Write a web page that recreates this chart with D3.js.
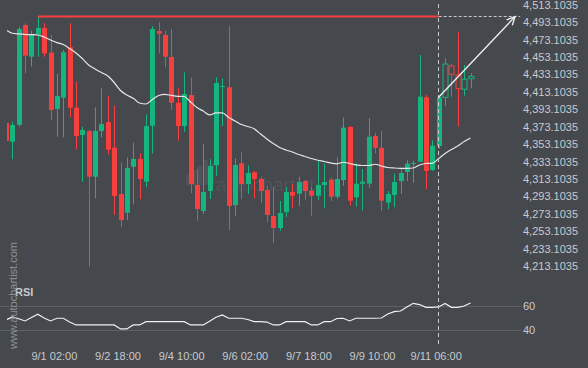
<!DOCTYPE html>
<html><head><meta charset="utf-8">
<script src="https://cdn.jsdelivr.net/npm/d3@7"></script>
<style>
html,body{margin:0;padding:0;background:#45484d;overflow:hidden}
svg{display:block}
</style></head>
<body>
<svg id="c" width="588" height="368"></svg>
<script>
const open = [4377.3,4355.8,4375.0,4489.8,4453.4,4479.1,4486.4,4458.0,4393.4,4406.3,
4464.2,4394.8,4363.5,4368.1,4315.6,4368.1,4378.4,4348.9,4295.8,4274.3,
4327.1,4336.0,4309.9,4374.2,4482.9,4478.3,4453.1,4400.6,4373.8,4409.4,
4306.1,4276.3,4299.2,4328.7,4418.6,4418.3,4283.1,4331.0,4307.2,4320.7,
4313.0,4300.4,4270.5,4256.7,4275.1,4298.1,4296.1,4310.7,4299.6,4293.8,
4306.1,4312.2,4292.7,4311.8,4372.7,4292.0,4307.6,4307.6,4362.4,4348.9,
4285.8,4294.6,4310.7,4321.0,4330.2,4332.9,4406.8,4323.3,4350.9,4406.8,
4442.7,4432.4,4416.0,4428.1];
const high = [4378.5,4378.8,4487.8,4491.7,4483.3,4499.0,4491.7,4478.3,4433.5,4461.1,
4491.7,4424.7,4373.0,4369.0,4395.3,4417.1,4408.6,4397.1,4331.7,4337.9,
4354.7,4342.5,4387.3,4488.6,4492.9,4483.3,4485.2,4417.1,4435.5,4429.8,
4324.1,4353.2,4335.6,4429.8,4428.6,4488.6,4336.8,4343.6,4328.7,4322.2,
4315.6,4305.3,4304.1,4287.7,4304.1,4306.9,4315.6,4311.8,4304.1,4333.7,
4331.0,4314.5,4337.9,4383.8,4373.8,4331.0,4324.5,4382.7,4366.1,4368.1,
4299.2,4319.5,4324.8,4334.5,4334.0,4455.4,4409.4,4357.4,4407.7,4451.6,
4445.0,4481.4,4443.9,4434.3];
const low = [4355.5,4335.6,4373.0,4434.3,4441.9,4453.4,4453.4,4380.7,4361.6,4360.9,
4383.8,4347.1,4309.9,4212.3,4290.8,4360.9,4341.3,4271.7,4257.5,4265.9,
4283.9,4289.7,4303.5,4342.5,4457.3,4441.2,4392.2,4357.0,4367.3,4296.6,
4265.1,4272.8,4290.0,4316.4,4373.8,4254.4,4270.9,4289.7,4295.8,4290.8,
4285.8,4263.3,4239.2,4253.6,4269.7,4279.4,4282.0,4288.9,4270.9,4288.9,
4279.4,4287.7,4290.0,4305.0,4282.3,4281.2,4276.6,4303.0,4342.5,4276.6,
4278.2,4280.5,4295.8,4310.7,4308.7,4332.5,4301.2,4322.2,4347.8,4397.1,
4407.5,4373.0,4408.6,4417.1];
const close = [4356.6,4375.0,4485.2,4454.6,4479.5,4486.4,4457.3,4392.2,4408.3,4458.5,
4394.8,4362.4,4369.2,4315.6,4368.1,4376.1,4346.6,4293.5,4265.9,4325.6,
4336.0,4313.0,4373.8,4485.2,4479.8,4453.4,4400.6,4373.8,4410.6,4307.2,
4278.5,4298.1,4327.9,4423.2,4419.8,4282.0,4329.1,4307.2,4319.9,4313.0,
4299.2,4271.7,4256.7,4274.0,4298.1,4293.8,4309.5,4299.2,4293.8,4306.1,
4309.5,4292.7,4313.0,4371.9,4288.1,4307.6,4309.9,4361.6,4348.9,4288.1,
4295.8,4309.5,4319.9,4330.6,4331.4,4407.5,4322.2,4351.2,4406.8,4445.0,
4433.2,4416.7,4427.5,4430.9];
const ma = [4484.1,4480.3,4479.5,4478.9,4478.7,4478.3,4476.0,4472.6,4469.5,4467.4,
4462.8,4457.7,4451.3,4443.9,4439.3,4435.3,4431.2,4423.8,4414.6,4409.4,
4405.6,4400.2,4399.1,4404.3,4408.9,4410.2,4408.9,4407.9,4407.7,4401.4,
4395.1,4391.1,4386.5,4388.8,4388.8,4383.6,4379.6,4375.6,4373.3,4370.6,
4364.7,4358.9,4353.7,4349.2,4346.3,4344.0,4341.1,4338.8,4336.5,4334.5,
4333.1,4331.4,4330.4,4332.2,4330.8,4329.1,4328.5,4328.5,4329.9,4327.9,
4326.2,4325.6,4325.3,4325.3,4325.6,4329.1,4330.8,4331.0,4336.5,4342.3,
4346.9,4350.9,4356.0,4360.1];
const rsi = [48.5,51,49.5,47.7,50.5,53.2,50.1,47.7,49.9,49.9,
46.8,44.4,44.4,44.4,44.4,44.4,44.4,44.4,41.1,41.1,
44.4,44.4,47.1,47.1,47.1,47.1,47.1,47.1,47.1,44.4,
44.4,44.4,47.5,50.7,52.7,49.9,49.9,49.9,48.9,47.1,
47.1,46.8,44.4,44.4,47.1,47.1,47.1,47.1,44.4,44.4,
47.1,47.1,49.7,49.9,47.7,49.9,49.9,49.9,49.9,50.1,
53.4,55.3,55.9,59.2,62.2,61.2,58.9,58.9,59.2,62.1,
58.9,58.9,60,62.5];
const priceTicks = [4213.1035,4233.1035,4253.1035,4273.1035,4293.1035,4313.1035,4333.1035,4353.1035,
4373.1035,4393.1035,4413.1035,4433.1035,4453.1035,4473.1035,4493.1035,4513.1035];
const rsiTicks = [40,60];
const timeLabels = ["9/1 02:00","9/2 18:00","9/4 10:00","9/6 02:00","9/7 18:00","9/9 10:00","9/11 06:00"];
const timeLabelIdx = [9,19,29,39,49,59,69];
const resistance = 4500.0;
const resistanceStart = 6;
const patternEnd = 69;     // last completed candle; forecast starts here
const forecastIdx = 81;    // arrow target index
const dashedEndIdx = 81.8;

const W = 588, H = 368;
const bg = "#45484d", green = "#16b47f", red = "#f93e3e";
const svg = d3.select("#c");
svg.append("rect").attr("width",W).attr("height",H).attr("fill",bg);

const x = d3.scaleLinear().domain([1,74]).range([5.96,470.5]);
const y = d3.scaleLinear().domain([4213.1035,4513.1035]).range([266,4.7]);
const yr = d3.scaleLinear().domain([40,60]).range([330.3,306]);

const font = "'Liberation Sans', Arial, sans-serif";

// center watermark
const wm = svg.append("g").attr("opacity",1);
[[186,175,4,10],[192,170,4,15],[198,166,4,19],[204,160,4,25],[210,164,4,21]].forEach(b=>{
  wm.append("rect").attr("x",b[0]).attr("y",b[1]).attr("width",b[2]).attr("height",b[3]).attr("fill","#50535a");
});
wm.append("text").attr("x",216).attr("y",191).attr("font-family",font).attr("font-size",19)
  .attr("fill","#50535a").text("autochartist");

// rsi grid
const rg = svg.append("g");
rsiTicks.forEach(v=>{
  rg.append("line").attr("x1",0).attr("x2",521).attr("y1",Math.round(yr(v))+0.5).attr("y2",Math.round(yr(v))+0.5)
    .attr("stroke","#5d6065").attr("stroke-width",1);
  rg.append("text").attr("x",523).attr("y",yr(v)).attr("dy","0.35em").attr("font-family",font)
    .attr("font-size",11).attr("fill","#c8cacd").text(v);
});

// clip
svg.append("clipPath").attr("id","clip").append("rect").attr("x",7).attr("y",0).attr("width",515).attr("height",368);
const plot = svg.append("g").attr("clip-path","url(#clip)");

// candles
const idx = d3.range(1,75);
const cg = plot.append("g");
idx.forEach(i=>{
  const k=i-1, o=open[k], c=close[k], h=high[k], l=low[k];
  const up = c>=o, col = up?green:red;
  const hollow = i>patternEnd;
  const cx = Math.round(x(i));
  cg.append("line").attr("x1",cx+0.5).attr("x2",cx+0.5).attr("y1",y(h)).attr("y2",y(l))
    .attr("stroke",col).attr("stroke-width",1);
  const top = y(Math.max(o,c)), bot = y(Math.min(o,c));
  const hgt = Math.max(1,bot-top);
  if(hollow){
    cg.append("rect").attr("x",cx-2).attr("y",top).attr("width",5).attr("height",hgt)
      .attr("fill",bg).attr("stroke",col).attr("stroke-width",1);
  } else {
    cg.append("rect").attr("x",cx-2).attr("y",top).attr("width",5).attr("height",hgt).attr("fill",col);
  }
});

// MA line
plot.append("path").datum(idx).attr("fill","none").attr("stroke","#e6e6e6").attr("stroke-width",1.2)
  .attr("d",d3.line().x(i=>x(i)).y(i=>y(ma[i-1])).curve(d3.curveMonotoneX));

// RSI line
plot.append("path").datum(idx).attr("fill","none").attr("stroke","#f0f0f0").attr("stroke-width",1.2)
  .attr("d",d3.line().x(i=>x(i)).y(i=>yr(rsi[i-1])));

// resistance line
const ry = Math.round(y(resistance))+0.5;
svg.append("line").attr("x1",x(resistanceStart)).attr("x2",x(patternEnd)).attr("y1",ry).attr("y2",ry)
  .attr("stroke",red).attr("stroke-width",2);
svg.append("line").attr("x1",x(patternEnd)).attr("x2",x(dashedEndIdx)).attr("y1",ry).attr("y2",ry)
  .attr("stroke","#c8c8c8").attr("stroke-width",1).attr("stroke-dasharray","3,2");

// vertical dashed
const vx = Math.round(x(patternEnd))-0.5;
svg.append("line").attr("x1",vx).attr("x2",vx).attr("y1",4).attr("y2",347)
  .attr("stroke","#c8c8c8").attr("stroke-width",1).attr("stroke-dasharray","4,3");

// forecast arrow
const ax1 = x(patternEnd), ay1 = y(close[patternEnd-1]);
const ax2 = x(forecastIdx), ay2 = y(resistance)+0.5;
svg.append("line").attr("x1",ax1).attr("y1",ay1).attr("x2",ax2).attr("y2",ay2)
  .attr("stroke","#f2f2f2").attr("stroke-width",1.3);
const ang = Math.atan2(ay2-ay1, ax2-ax1);
const L = 9, spread = 0.45;
const p1 = [ax2 - L*Math.cos(ang-spread), ay2 - L*Math.sin(ang-spread)];
const p2 = [ax2 - L*Math.cos(ang+spread), ay2 - L*Math.sin(ang+spread)];
svg.append("path").attr("d",`M${p1[0]},${p1[1]}L${ax2},${ay2}L${p2[0]},${p2[1]}`)
  .attr("fill","none").attr("stroke","#f2f2f2").attr("stroke-width",1.3);

// price axis labels
const yAxis = d3.axisRight(y).tickValues(priceTicks).tickSize(0).tickPadding(0)
  .tickFormat(d=>d3.format(",.4f")(d));
const ya = svg.append("g").attr("transform","translate(523,0)").call(yAxis);
ya.select(".domain").remove();
ya.selectAll("text").attr("font-family",font).attr("font-size",11).attr("fill","#c8cacd");

// time labels
timeLabels.forEach((t,j)=>{
  svg.append("text").attr("x",x(timeLabelIdx[j])-2.5).attr("y",360).attr("text-anchor","middle")
    .attr("font-family",font).attr("font-size",11).attr("fill","#c8cacd").text(t);
});

// RSI title
svg.append("text").attr("x",15).attr("y",295.5).attr("font-family",font).attr("font-size",11)
  .attr("font-weight","bold").attr("fill","#c8cacd").text("RSI");

// side watermark
svg.append("text").attr("transform","translate(16.5,349) rotate(-90)").attr("font-family",font)
  .attr("font-size",11).attr("fill","#8d9095").text("www.autochartist.com");
</script>
</body></html>
